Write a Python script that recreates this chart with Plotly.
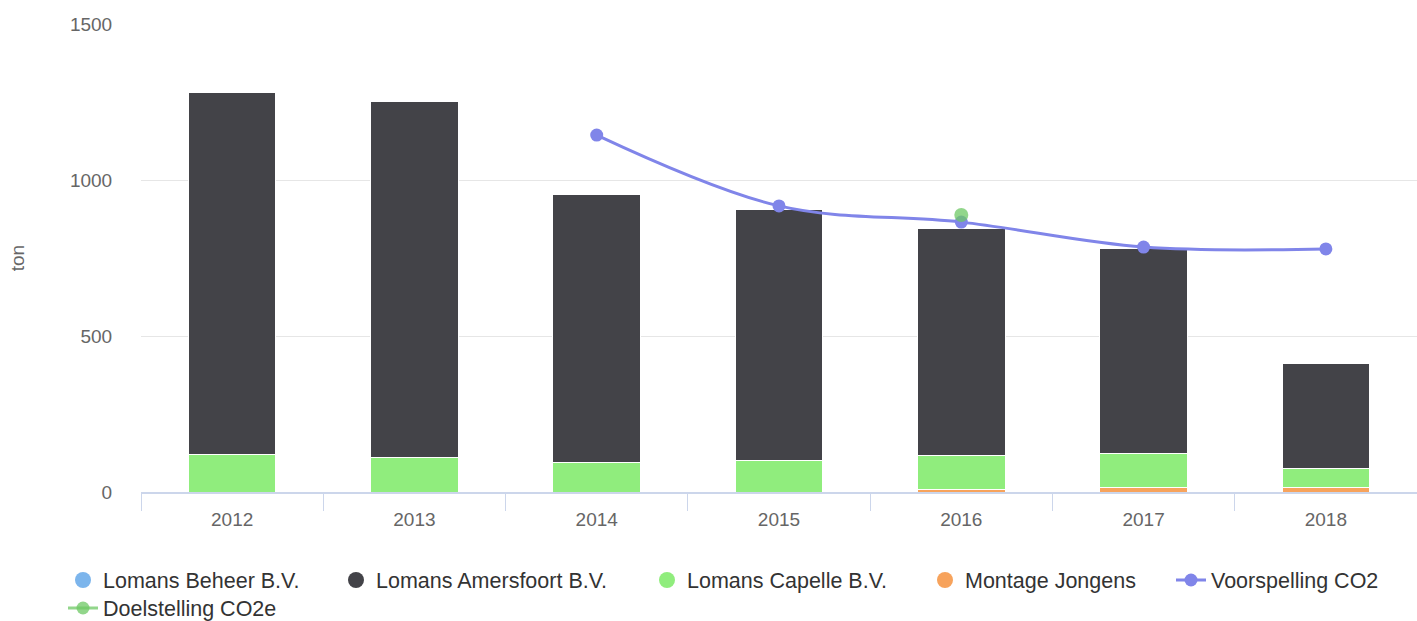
import plotly.graph_objects as go

years = ["2012", "2013", "2014", "2015", "2016", "2017", "2018"]
beheer = [0, 0, 0, 0, 0, 0, 0]
amersfoort = [1163, 1141, 856, 802, 725, 654, 339]
capelle = [119, 112, 96, 102, 109, 109, 58]
montage = [0, 0, 0, 0, 9, 16, 16]
voorspelling = [None, None, 1144, 917, 865, 785, 779]
doelstelling = [None, None, None, None, 888, None, None]

FONT = "Liberation Sans, Arial, sans-serif"
C_BEHEER = "#7cb5ec"
C_AMERS = "#434348"
C_CAPELLE = "#90ed7d"
C_MONTAGE = "#f7a35c"
C_VOOR = "#8085e9"
C_DOEL = "rgba(110,200,100,0.75)"

W, H = 1417, 621

fig = go.Figure()

# stacked bars: bottom to top
for name, vals, col in [("Montage Jongens", montage, C_MONTAGE),
                        ("Lomans Capelle B.V.", capelle, C_CAPELLE),
                        ("Lomans Amersfoort B.V.", amersfoort, C_AMERS),
                        ("Lomans Beheer B.V.", beheer, C_BEHEER)]:
    fig.add_trace(go.Bar(x=years, y=vals, name=name, marker_color=col,
                         marker_line_color="white", marker_line_width=1,
                         showlegend=False))

fig.add_trace(go.Scatter(x=years, y=voorspelling, name="Voorspelling CO2",
                         mode="lines+markers", line=dict(color=C_VOOR, width=3, shape="spline", smoothing=1.0),
                         marker=dict(color=C_VOOR, size=13), connectgaps=False, showlegend=False))
fig.add_trace(go.Scatter(x=years, y=doelstelling, name="Doelstelling CO2e",
                         mode="lines+markers", line=dict(color=C_DOEL, width=3),
                         marker=dict(color=C_DOEL, size=14), showlegend=False))

# legend entries in original order, each in its own legend box
legend_items = [
    ("Lomans Beheer B.V.", C_BEHEER, "m", 103, 580),
    ("Lomans Amersfoort B.V.", C_AMERS, "m", 376, 580),
    ("Lomans Capelle B.V.", C_CAPELLE, "m", 687, 580),
    ("Montage Jongens", C_MONTAGE, "m", 965, 580),
    ("Voorspelling CO2", C_VOOR, "l", 1211, 580),
    ("Doelstelling CO2e", C_DOEL, "l", 103, 608),
]
legend_layout = {}
for i, (name, col, kind, tx, ty) in enumerate(legend_items):
    lid = "legend" if i == 0 else f"legend{i+1}"
    if kind == "m":
        tr = go.Scatter(x=[None], y=[None], mode="markers", name=name,
                        marker=dict(color=col, size=22, symbol="circle"), legend=lid)
    else:
        tr = go.Scatter(x=[None], y=[None], mode="lines+markers", name=name,
                        line=dict(color=col, width=3), marker=dict(color=col, size=13), legend=lid)
    fig.add_trace(tr)
    legend_layout[lid] = dict(xref="container", yref="container",
                              x=(tx - 40) / W, xanchor="left",
                              y=1 - ty / H, yanchor="middle",
                              font=dict(size=21.5, color="#333333", family=FONT),
                              itemsizing="trace", bgcolor="rgba(0,0,0,0)",
                              orientation="h")

fig.update_layout(
    width=W, height=H,
    barmode="stack", bargap=0.52,
    plot_bgcolor="white", paper_bgcolor="white",
    margin=dict(l=141, r=0, t=24, b=129),
    font=dict(family=FONT, size=19, color="#666666"),
    xaxis=dict(type="category", showline=True, linecolor="#ccd6eb", linewidth=2,
               ticks="outside", tickson="boundaries", ticklen=17, tickcolor="#ccd6eb",
               tickfont=dict(size=19, color="#666666"), showgrid=False,
               ticklabelstandoff=9, range=[-0.5, 6.5]),
    yaxis=dict(range=[0, 1500], tickvals=[0, 500, 1000, 1500], gridcolor="#e6e6e6",
               zeroline=False, showline=False, tickfont=dict(size=19, color="#666666"),
               ticks="outside", ticklen=24, tickcolor="rgba(0,0,0,0)",
               title=dict(text="ton", font=dict(size=19, color="#666666"), standoff=40)),
    **legend_layout,
)

fig.write_html("out.html", config={"displayModeBar": False},
               post_script="document.body.style.margin='0';")
